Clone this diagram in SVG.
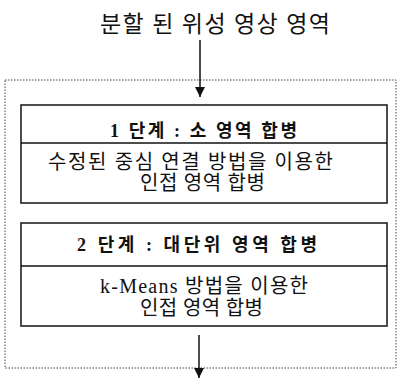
<svg xmlns="http://www.w3.org/2000/svg" width="399" height="388" viewBox="0 0 399 388">
<style>
.t{font-family:"Liberation Serif","Noto Sans CJK KR",serif;fill:#111;text-anchor:middle}
.h{font-weight:bold;font-size:18px}
.b{font-size:20px}
.box{fill:#fff;stroke:#222;stroke-width:1.6}
.ln{stroke:#111;stroke-width:1.5;fill:none}
</style>
<defs>
<marker id="ah" viewBox="0 0 10 10" refX="10" refY="5" markerWidth="12" markerHeight="10" markerUnits="userSpaceOnUse" orient="auto">
<path d="M0,0 L10,5 L0,10 Z" fill="#111"/>
</marker>
</defs>
<g id="title"><text class="t" x="215" y="32" style="font-size:23px" textLength="230" lengthAdjust="spacing">분할 된 위성 영상 영역</text></g>
<g id="container"><rect x="5" y="80" width="391" height="288" fill="none" stroke="#444" stroke-width="1" stroke-dasharray="1.5,1.5"/></g>
<g id="connectors">
<line class="ln" x1="200" y1="40" x2="200" y2="97" marker-end="url(#ah)"/>
<line class="ln" x1="199" y1="335" x2="199" y2="378" marker-end="url(#ah)"/>
</g>
<g id="step1">
<rect class="box" x="21" y="105" width="366" height="98"/>
<line class="ln" x1="21" y1="143" x2="387" y2="143"/>
<text class="t h" x="203.5" y="137" textLength="187" lengthAdjust="spacing">1 단계 : 소 영역 합병</text>
<text class="t b" x="190.5" y="169" textLength="285" lengthAdjust="spacing">수정된 중심 연결 방법을 이용한</text>
<text class="t b" x="202.5" y="190" textLength="125" lengthAdjust="spacing">인접 영역 합병</text>
</g>
<g id="step2">
<rect class="box" x="21" y="223" width="366" height="103"/>
<line class="ln" x1="21" y1="266" x2="387" y2="266"/>
<text class="t h" x="197" y="251" textLength="240" lengthAdjust="spacing">2 단계 : 대단위 영역 합병</text>
<text class="t b" x="204" y="293" textLength="208" lengthAdjust="spacing">k-Means 방법을 이용한</text>
<text class="t b" x="201.5" y="315" textLength="123" lengthAdjust="spacing">인접 영역 합병</text>
</g>
</svg>
